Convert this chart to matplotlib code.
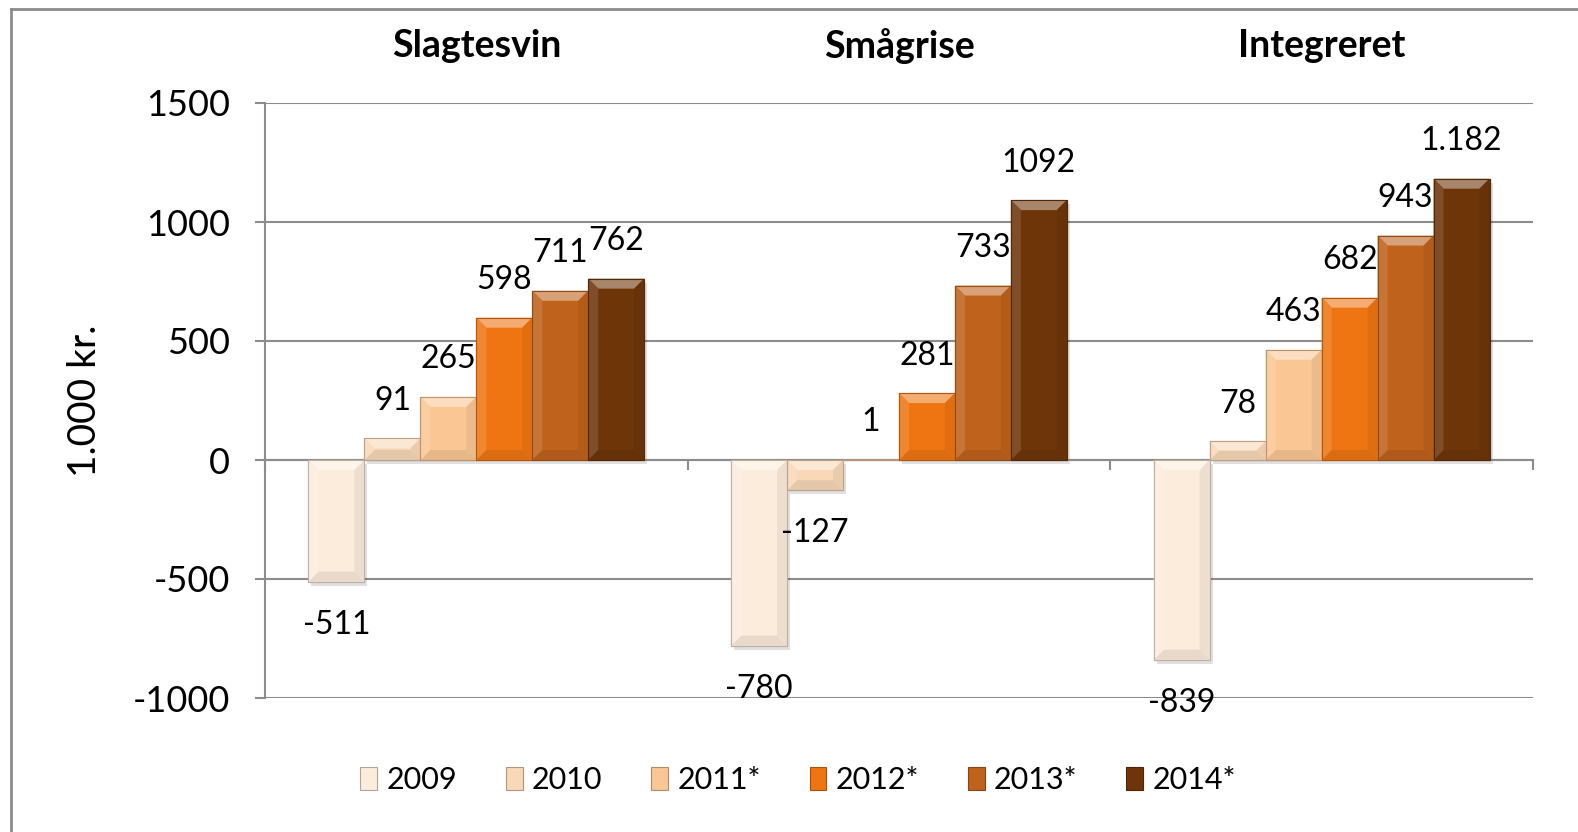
import numpy as np
import matplotlib
matplotlib.use("Agg")
import matplotlib.pyplot as plt
import matplotlib.transforms as mtransforms
from matplotlib.patches import Polygon, Rectangle, Patch
from matplotlib.lines import Line2D
from matplotlib.colors import to_rgb

plt.rcParams['font.family'] = ['Lato', 'DejaVu Sans']
plt.rcParams['axes.unicode_minus'] = False

# data
categories = ["Slagtesvin", "Smågrise", "Integreret"]
years = ["2009", "2010", "2011*", "2012*", "2013*", "2014*"]
values = {
    "2009": [-511, -780, -839],
    "2010": [91, -127, 78],
    "2011*": [265, 1, 463],
    "2012*": [598, 281, 682],
    "2013*": [711, 733, 943],
    "2014*": [762, 1092, 1182],
}
labels = {
    "2009": ["-511", "-780", "-839"],
    "2010": ["91", "-127", "78"],
    "2011*": ["265", "1", "463"],
    "2012*": ["598", "281", "682"],
    "2013*": ["711", "733", "943"],
    "2014*": ["762", "1092", "1.182"],
}
colors = ["#FCECDC", "#F9D8B8", "#FAC794", "#EE7512", "#BE621C", "#6E3509"]
yticks = [-1000, -500, 0, 500, 1000, 1500]

grid_c = "#8c8c8c"
W, H = 1578, 832


def mix(c, other, t):
    a = np.array(to_rgb(c))
    b = np.array(to_rgb(other))
    return tuple(a * (1 - t) + b * t)


fig = plt.figure(figsize=(W / 100, H / 100), dpi=100)
ax = fig.add_axes([265 / W, 1 - 698 / H, (1533 - 265) / W, 595 / H])

x = np.arange(len(categories))
w = 56 / 423
ax.set_xlim(-0.5, len(categories) - 0.5)
ax.set_ylim(-1000, 1500)

# pixel -> data sizes for the bevel
px_x = 1.0 * len(categories) / (1533 - 265)
px_y = 2500 / 595
bx, by = 10 * px_x, 10 * px_y

for i, yr in enumerate(years):
    off = (i - 2.5) * w
    edge = mix(colors[i], "black", 0.25)
    bars = ax.bar(x + off, values[yr], width=w, color=colors[i],
                  edgecolor=edge, linewidth=0.8, zorder=3)
    for b in bars:
        x0 = b.get_x()
        x1 = x0 + b.get_width()
        y0 = b.get_y()
        y1 = y0 + b.get_height()
        ylo, yhi = min(y0, y1), max(y0, y1)
        hv = min(by, (yhi - ylo) / 2)
        hx = min(bx, hv / px_y * px_x)
        # soft shadow
        ax.add_patch(Rectangle((x0 + 3 * px_x, ylo - 4 * px_y), x1 - x0, yhi - ylo,
                               facecolor="black", alpha=0.12, lw=0, zorder=2))
        # bevel faces
        ax.add_patch(Polygon([(x0, yhi), (x1, yhi), (x1 - hx, yhi - hv), (x0 + hx, yhi - hv)],
                             closed=True, facecolor=mix(colors[i], "white", 0.4), lw=0, zorder=3.5))
        ax.add_patch(Polygon([(x0, ylo), (x1, ylo), (x1 - hx, ylo + hv), (x0 + hx, ylo + hv)],
                             closed=True, facecolor=mix(colors[i], "black", 0.08), lw=0, zorder=3.5))
        ax.add_patch(Polygon([(x0, ylo), (x0 + hx, ylo + hv), (x0 + hx, yhi - hv), (x0, yhi)],
                             closed=True, facecolor=mix(colors[i], "white", 0.12), lw=0, zorder=3.5))
        ax.add_patch(Polygon([(x1, ylo), (x1 - hx, ylo + hv), (x1 - hx, yhi - hv), (x1, yhi)],
                             closed=True, facecolor=mix(colors[i], "black", 0.06), lw=0, zorder=3.5))
        ax.add_patch(Rectangle((x0, ylo), x1 - x0, yhi - ylo, facecolor="none",
                               edgecolor=edge, lw=0.8, zorder=3.6))
    for j, v in enumerate(values[yr]):
        dy = 27 if v >= 0 else -31
        ax.annotate(labels[yr][j], (x[j] + off, v), xytext=(0, dy), textcoords="offset points",
                    ha="center", va="center", fontsize=23, color="black", zorder=5)

# axes styling
ax.set_yticks(yticks)
ax.set_yticklabels([str(t) for t in yticks])
ax.yaxis.grid(True, color=grid_c, lw=1.5)
ax.set_axisbelow(True)
ax.tick_params(axis="y", length=7, width=1.5, color=grid_c, pad=18, labelsize=26)
ax.set_ylabel("1.000 kr.", fontsize=28)
ax.yaxis.set_label_coords((103 - 265) / (1533 - 265), 0.5)

ax.spines["top"].set_visible(False)
ax.spines["right"].set_visible(False)
ax.spines["left"].set_color(grid_c)
ax.spines["left"].set_linewidth(1.5)
ax.spines["bottom"].set_position(("data", 0))
ax.spines["bottom"].set_color(grid_c)
ax.spines["bottom"].set_linewidth(1.5)
ax.spines["bottom"].set_zorder(2.8)
ax.set_xticks(np.arange(-0.5, len(categories), 1.0))
ax.set_xticklabels([])
ax.tick_params(axis="x", length=7, width=1.5, color=grid_c, direction="out")

# category titles on top
title_tr = mtransforms.blended_transform_factory(ax.transData, fig.transFigure)
for j, c in enumerate(categories):
    ax.text(x[j], 1 - 46 / H, c, transform=title_tr,
            ha="center", va="center", fontsize=27, fontweight="bold")

# legend
handles = [Patch(facecolor=colors[i], edgecolor=mix(colors[i], "black", 0.3), lw=0.8)
           for i in range(len(years))]
fig.legend(handles, years, loc="center", bbox_to_anchor=(798 / W, 1 - 780 / H), ncol=6,
           frameon=False, fontsize=22, handlelength=0.55, handleheight=0.75,
           handletextpad=0.3, columnspacing=1.6)

# outer frame (right and bottom edges are cut off in the original)
fig.add_artist(Line2D([11 / W, 11 / W], [0, 1 - 9 / H], transform=fig.transFigure, color=grid_c, lw=2))
fig.add_artist(Line2D([11 / W, 1], [1 - 9 / H, 1 - 9 / H], transform=fig.transFigure, color=grid_c, lw=2))

fig.savefig("out.png", dpi=100)
